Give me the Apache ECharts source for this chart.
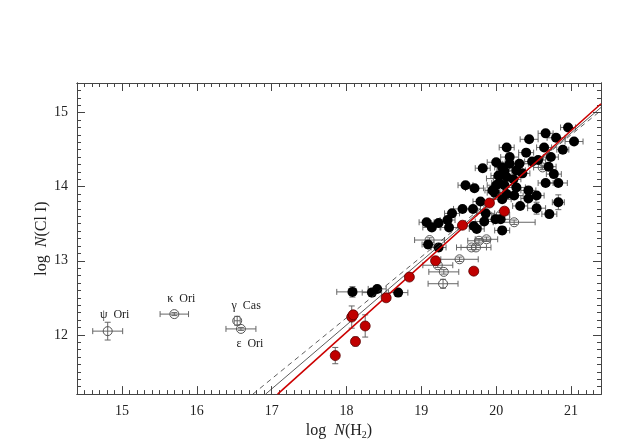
<!DOCTYPE html>
<html>
<head>
<meta charset="utf-8">
<script src="https://cdn.jsdelivr.net/npm/echarts@6/dist/echarts.min.js"></script>
<style>html,body{margin:0;padding:0;background:#fff}#c{width:623px;height:445px}</style>
</head>
<body>
<div id="c"></div>
<script>
// ---- data (log column densities) ----
const blackX = [18.08,18.34,18.41,18.69,19.07,19.14,19.23,19.37,19.35,19.41,19.55,19.69,19.86,19.70,19.74,19.84,19.99,20.06,20.08,19.09,19.23,19.59,19.71,19.79,19.95,20.00,20.11,20.27,19.98,20.14,20.24,20.43,20.54,20.08,20.32,20.54,20.71,20.83,20.66,20.83,20.43,20.96,20.66,20.44,20.80,21.04,20.14,20.64,20.40,20.89,20.18,20.00,19.82,20.08,20.18,20.31,20.48,20.56,20.70,20.73,20.11,20.27,20.35,20.14,20.23,20.03,20.77,20.04];
const blackY = [12.58,12.57,12.62,12.57,13.52,13.45,13.51,13.45,13.55,13.64,13.70,13.70,13.64,13.47,13.43,13.53,13.56,13.56,13.41,13.22,13.18,14.02,13.98,13.80,13.95,14.02,14.02,13.99,13.92,13.90,13.88,13.84,13.88,13.83,13.74,13.71,13.63,13.79,14.05,14.05,13.95,14.80,14.72,14.64,14.66,14.61,14.53,14.53,14.46,14.50,14.40,14.33,14.25,14.26,14.31,14.31,14.34,14.36,14.27,14.40,14.21,14.22,14.18,14.13,14.10,14.15,14.17,14.05];
const blackXErr = [0.21,0.13,0.12,0.13,0.10,0.12,0.10,0.12,0.10,0.10,0.12,0.10,0.12,0.10,0.10,0.12,0.10,0.12,0.10,0.08,0.10,0.10,0.12,0.10,0.10,0.12,0.10,0.12,0.10,0.10,0.12,0.10,0.10,0.12,0.10,0.12,0.10,0.08,0.10,0.12,0.10,0.10,0.10,0.12,0.12,0.12,0.10,0.10,0.10,0.08,0.12,0.12,0.10,0.10,0.10,0.12,0.10,0.10,0.10,0.10,0.10,0.12,0.10,0.10,0.10,0.10,0.10,0.10];
const blackYErr = [0.07,0.03,0.03,0.03,0.03,0.03,0.03,0.03,0.03,0.03,0.03,0.03,0.03,0.03,0.03,0.03,0.03,0.03,0.05,0.05,0.05,0.03,0.03,0.03,0.03,0.03,0.03,0.03,0.03,0.03,0.03,0.03,0.03,0.03,0.03,0.08,0.03,0.10,0.03,0.03,0.03,0.03,0.03,0.03,0.03,0.03,0.03,0.03,0.03,0.03,0.03,0.03,0.03,0.03,0.03,0.03,0.03,0.03,0.03,0.03,0.03,0.03,0.03,0.03,0.03,0.03,0.03,0.03];

const redX = [17.85,18.07,18.09,18.12,18.25,18.53,18.84,19.19,19.55,19.70,19.91,20.11];
const redY = [11.72,12.24,12.27,11.91,12.12,12.50,12.78,13.00,13.48,12.86,13.78,13.67];
const redXErr = [0.03,0.03,0.03,0.03,0.03,0.05,0.03,0.03,0.03,0.03,0.03,0.03];
const redYErr = [0.11,0.15,0.05,0.06,0.15,0.03,0.03,0.03,0.03,0.03,0.03,0.03];

const openX = [19.11,19.77,19.87,19.67,19.73,19.51,19.22,19.30,19.29,20.24,20.62,20.02,20.06];
const openY = [13.28,13.27,13.29,13.18,13.18,13.02,12.94,12.85,12.69,13.52,14.26,14.11,13.62];
const openXErr = [0.20,0.15,0.15,0.20,0.20,0.25,0.20,0.20,0.20,0.28,0.12,0.15,0.12];
const openYErr = [0.03,0.03,0.03,0.03,0.03,0.03,0.03,0.03,0.06,0.03,0.03,0.03,0.03];

const starNames = ['ψ  Ori','κ  Ori','γ  Cas','ε  Ori'];
const starX = [14.81,15.70,16.54,16.59];
const starY = [12.05,12.28,12.19,12.08];
const starXErr = [0.20,0.19,0.04,0.20];
const starYErr = [0.12,0.02,0.06,0.02];

// fit lines: [x0, y0, x1, y1]
const fitRed = [17.08, 11.20, 21.40, 15.12];
const fitSolid = [16.92, 11.20, 21.40, 15.07];
const fitDashed = [16.75, 11.20, 21.40, 15.03];

const xTickLabels = ['15','16','17','18','19','20','21'];
const yTickLabels = ['12','13','14','15'];

// ---- build ----
const FONT = '"Liberation Serif","DejaVu Serif",serif';
const zip = (xs, ys) => xs.map((x, i) => [x, ys[i]]);
const zipErr = (xs, ys, xe, ye) => xs.map((x, i) => [x, ys[i], xe[i], ye[i]]);
const errData = [].concat(
  zipErr(starX, starY, starXErr, starYErr),
  zipErr(openX, openY, openXErr, openYErr),
  zipErr(blackX, blackY, blackXErr, blackYErr),
  zipErr(redX, redY, redXErr, redYErr)
);

function renderErr(params, api) {
  const x = api.value(0), y = api.value(1), xe = api.value(2), ye = api.value(3);
  const l = api.coord([x - xe, y]), r = api.coord([x + xe, y]);
  const b = api.coord([x, y - ye]), t = api.coord([x, y + ye]);
  const cap = 3;
  const st = { stroke: '#666', lineWidth: 1 };
  const ln = (x1, y1, x2, y2) => ({ type: 'line', shape: { x1, y1, x2, y2 }, style: st });
  return {
    type: 'group',
    children: [
      ln(l[0], l[1], r[0], r[1]),
      ln(l[0], l[1] - cap, l[0], l[1] + cap),
      ln(r[0], r[1] - cap, r[0], r[1] + cap),
      ln(b[0], b[1], t[0], t[1]),
      ln(b[0] - cap, b[1], b[0] + cap, b[1]),
      ln(t[0] - cap, t[1], t[0] + cap, t[1])
    ]
  };
}

const labelFmt = (list) => (v) => {
  const r = Math.round(v);
  return (Math.abs(v - r) < 1e-6 && list.indexOf(String(r)) >= 0) ? String(r) : '';
};

const axisColor = '#444';
const mainX = (pos, labels) => ({
  type: 'value', position: pos, min: 14.4, max: 21.4, minInterval: 1, maxInterval: 1,
  axisLine: { show: true, onZero: false, lineStyle: { color: axisColor, width: 1 } },
  axisTick: { show: true, inside: true, length: 8, lineStyle: { color: axisColor } },
  axisLabel: { show: labels, margin: 10, color: '#222', fontFamily: FONT, fontSize: 14,
    showMinLabel: false, showMaxLabel: false, formatter: labelFmt(xTickLabels) },
  splitLine: { show: false }
});
const minorX = (pos) => ({
  type: 'value', position: pos, min: 14.4, max: 21.4, interval: 0.1,
  axisLine: { show: true, onZero: false, lineStyle: { color: axisColor, width: 1 } },
  axisTick: { show: true, inside: true, length: 4, interval: 0, lineStyle: { color: axisColor } },
  axisLabel: { show: false }, splitLine: { show: false }
});
const mainY = (pos, labels) => ({
  type: 'value', position: pos, min: 11.2, max: 15.4, minInterval: 1, maxInterval: 1,
  axisLine: { show: true, onZero: false, lineStyle: { color: axisColor, width: 1 } },
  axisTick: { show: true, inside: true, length: 8, lineStyle: { color: axisColor } },
  axisLabel: { show: labels, margin: 9, color: '#222', fontFamily: FONT, fontSize: 14,
    showMinLabel: false, showMaxLabel: false, formatter: labelFmt(yTickLabels) },
  splitLine: { show: false }
});
const minorY = (pos) => ({
  type: 'value', position: pos, min: 11.2, max: 15.4, interval: 0.1,
  axisLine: { show: true, onZero: false, lineStyle: { color: axisColor, width: 1 } },
  axisTick: { show: true, inside: true, length: 4, interval: 0, lineStyle: { color: axisColor } },
  axisLabel: { show: false }, splitLine: { show: false }
});

const xBottom = mainX('bottom', true);
xBottom.name = '{a|log  }{i|N}{a|(H}{s|2}{a|)}';
xBottom.nameLocation = 'middle';
xBottom.nameGap = 22;
xBottom.nameTextStyle = { rich: {
  a: { fontFamily: FONT, fontSize: 16, color: '#222' },
  i: { fontFamily: FONT, fontSize: 16, fontStyle: 'italic', color: '#222' },
  s: { fontFamily: FONT, fontSize: 10, color: '#222', verticalAlign: 'bottom', padding: [8, 0, 0, 0] }
}};
const yLeft = mainY('left', true);
yLeft.name = '{a|log  }{i|N}{a|(Cl I)}';
yLeft.nameLocation = 'middle';
yLeft.nameGap = 27;
yLeft.nameMoveOverlap = false;
yLeft.nameTextStyle = { rich: {
  a: { fontFamily: FONT, fontSize: 16, color: '#222' },
  i: { fontFamily: FONT, fontSize: 16, fontStyle: 'italic', color: '#222' }
}};

const starLabelPos = [
  { position: 'top', offset: [7, -1] },
  { position: 'top', offset: [7, 0] },
  { position: 'top', offset: [9, 0] },
  { position: 'bottom', offset: [9, 0] }
];
const starData = starX.map((x, i) => ({
  value: [x, starY[i]], name: starNames[i],
  label: { show: true, formatter: starNames[i], position: starLabelPos[i].position,
    offset: starLabelPos[i].offset, fontFamily: FONT, fontSize: 12, color: '#222', distance: 4 }
}));

const openStyle = { color: 'rgba(255,255,255,0)', borderColor: '#555', borderWidth: 1, opacity: 1 };

const chart = echarts.init(document.getElementById('c'), null, { renderer: 'canvas' });
chart.setOption({
  animation: false,
  backgroundColor: '#fff',
  grid: { left: 77, right: 22, top: 83, bottom: 50, containLabel: false },
  xAxis: [xBottom, minorX('bottom'), mainX('top', false), minorX('top')],
  yAxis: [yLeft, minorY('left'), mainY('right', false), minorY('right')],
  series: [
    { type: 'custom', renderItem: renderErr, data: errData, clip: true, z: 1, silent: true,
      encode: { x: 0, y: 1 } },
    { type: 'scatter', data: starData, symbol: 'circle', symbolSize: 9, itemStyle: openStyle, z: 2 },
    { type: 'scatter', data: zip(openX, openY), symbol: 'circle', symbolSize: 9, itemStyle: openStyle, z: 2 },
    { type: 'scatter', data: zip(blackX, blackY), symbol: 'circle', symbolSize: 10,
      itemStyle: { color: '#000', opacity: 1 }, z: 3 },
    { type: 'line', data: [[fitDashed[0], fitDashed[1]], [fitDashed[2], fitDashed[3]]], showSymbol: false, symbol: 'none',
      lineStyle: { color: '#333', width: 0.8, type: [5, 4] }, z: 4 },
    { type: 'line', data: [[fitSolid[0], fitSolid[1]], [fitSolid[2], fitSolid[3]]], showSymbol: false, symbol: 'none',
      lineStyle: { color: '#333', width: 0.8 }, z: 4 },
    { type: 'line', data: [[fitRed[0], fitRed[1]], [fitRed[2], fitRed[3]]], showSymbol: false, symbol: 'none',
      lineStyle: { color: '#cc0000', width: 1.6 }, z: 5 },
    { type: 'scatter', data: zip(redX, redY), symbol: 'circle', symbolSize: 10,
      itemStyle: { color: '#c00000', borderColor: '#5a0000', borderWidth: 0.8, opacity: 1 }, z: 6 }
  ]
});
</script>
</body>
</html>
